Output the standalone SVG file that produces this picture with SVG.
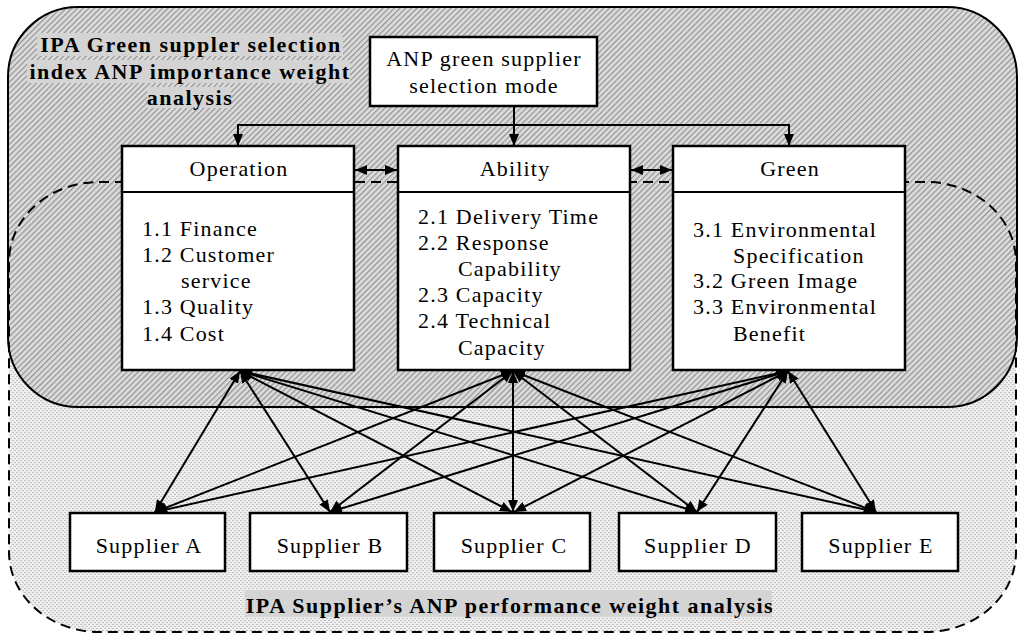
<svg xmlns="http://www.w3.org/2000/svg" width="1024" height="640" viewBox="0 0 1024 640">
<style>
.box{fill:#fff;stroke:#000;stroke-width:2.5}
.t{font-family:"Liberation Serif","Times New Roman",serif;font-size:22px;letter-spacing:1.2px;fill:#000}
.c{text-anchor:middle}
.b{font-weight:bold;letter-spacing:1.5px}
.hl{fill:#d4d4d4}
.ln{stroke:#000;stroke-width:2;fill:none}
.dbl{stroke:#000;stroke-width:2;fill:none;marker-start:url(#ah);marker-end:url(#ah)}
.one{stroke:#000;stroke-width:2;fill:none;marker-end:url(#ah)}
</style>
<defs>
<pattern id="hatch" patternUnits="userSpaceOnUse" width="4" height="4" patternTransform="rotate(45)">
<rect width="4" height="4" fill="#dcdcdc"/>
<rect width="1.2" height="4" fill="#929292"/>
</pattern>
<pattern id="dots" patternUnits="userSpaceOnUse" width="4" height="4">
<rect width="4" height="4" fill="#efefef"/>
<rect x="0" y="0" width="2" height="1" fill="#c2c2c2"/>
<rect x="2" y="2" width="2" height="1" fill="#c2c2c2"/>
</pattern>
<marker id="ah" viewBox="0 0 12 10" refX="12" refY="5" markerWidth="12" markerHeight="10" markerUnits="userSpaceOnUse" orient="auto-start-reverse">
<path d="M0,0 L12,5 L0,10 z" fill="#000"/>
</marker>
</defs>

<g id="region-performance-fill">
<rect x="9" y="182" width="1007" height="450" rx="90" ry="80" fill="url(#dots)"/>
</g>
<g id="region-importance">
<rect x="8" y="7" width="1009" height="400" rx="70" ry="70" fill="url(#hatch)" stroke="#000" stroke-width="2"/>
</g>
<g id="region-performance-border">
<rect x="9" y="182" width="1007" height="450" rx="90" ry="80" fill="none" stroke="#000" stroke-width="2" stroke-dasharray="10,6"/>
</g>

<g id="label-importance">
<rect class="hl" x="37" y="33" width="306" height="23"/>
<rect class="hl" x="27" y="60" width="323" height="23"/>
<rect class="hl" x="147" y="87" width="84" height="21"/>
<text class="t b c" x="191" y="52">IPA Green suppler selection</text>
<text class="t b c" x="190" y="79">index ANP importance weight</text>
<text class="t b c" x="190" y="105">analysis</text>
</g>

<g id="node-anp">
<rect class="box" x="370" y="37" width="227" height="69"/>
<text class="t c" x="484" y="66">ANP green supplier</text>
<text class="t c" x="484" y="93">selection mode</text>
</g>

<g id="node-operation">
<rect class="box" x="122" y="146" width="232" height="224"/>
<line class="ln" x1="122" y1="192" x2="354" y2="192" stroke-width="2.5"/>
<text class="t c" x="239" y="176">Operation</text>
<text class="t" x="142" y="236">1.1 Finance</text>
<text class="t" x="142" y="262">1.2 Customer</text>
<text class="t" x="181" y="288">service</text>
<text class="t" x="142" y="314">1.3 Quality</text>
<text class="t" x="142" y="341">1.4 Cost</text>
</g>

<g id="node-ability">
<rect class="box" x="398" y="146" width="232" height="224"/>
<line class="ln" x1="398" y1="192" x2="630" y2="192" stroke-width="2.5"/>
<text class="t c" x="515" y="176">Ability</text>
<text class="t" x="418" y="224">2.1 Delivery Time</text>
<text class="t" x="418" y="250">2.2 Response</text>
<text class="t" x="458" y="276">Capability</text>
<text class="t" x="418" y="302">2.3 Capacity</text>
<text class="t" x="418" y="328">2.4 Technical</text>
<text class="t" x="458" y="355">Capacity</text>
</g>

<g id="node-green">
<rect class="box" x="673" y="146" width="232" height="224"/>
<line class="ln" x1="673" y1="192" x2="905" y2="192" stroke-width="2.5"/>
<text class="t c" x="790" y="176">Green</text>
<text class="t" x="693" y="237">3.1 Environmental</text>
<text class="t" x="733" y="263">Specification</text>
<text class="t" x="693" y="288">3.2 Green Image</text>
<text class="t" x="693" y="314">3.3 Environmental</text>
<text class="t" x="733" y="341">Benefit</text>
</g>

<g id="node-supplier-a">
<rect class="box" x="70" y="513" width="155" height="58"/>
<text class="t c" x="149" y="553">Supplier A</text>
</g>
<g id="node-supplier-b">
<rect class="box" x="250" y="513" width="157" height="58"/>
<text class="t c" x="330" y="553">Supplier B</text>
</g>
<g id="node-supplier-c">
<rect class="box" x="434" y="513" width="156" height="58"/>
<text class="t c" x="514" y="553">Supplier C</text>
</g>
<g id="node-supplier-d">
<rect class="box" x="619" y="513" width="157" height="58"/>
<text class="t c" x="698" y="553">Supplier D</text>
</g>
<g id="node-supplier-e">
<rect class="box" x="802" y="513" width="156" height="58"/>
<text class="t c" x="881" y="553">Supplier E</text>
</g>

<g id="label-performance">
<rect class="hl" x="245" y="590" width="527" height="27"/>
<text class="t b c" x="510" y="613">IPA Supplier’s ANP performance weight analysis</text>
</g>

<g id="connectors">
<line class="one" x1="514" y1="106" x2="514" y2="146"/>
<polyline class="ln" points="238,125 789,125"/>
<line class="one" x1="238" y1="124" x2="238" y2="146"/>
<line class="one" x1="789" y1="124" x2="789" y2="146"/>
<line class="dbl" x1="355" y1="170" x2="397" y2="170"/>
<line class="dbl" x1="631" y1="170" x2="672" y2="170"/>

<line class="dbl" x1="240" y1="371" x2="155" y2="512"/>
<line class="dbl" x1="240" y1="371" x2="330" y2="512"/>
<line class="dbl" x1="240" y1="371" x2="512" y2="512"/>
<line class="dbl" x1="240" y1="371" x2="697" y2="512"/>
<line class="dbl" x1="240" y1="371" x2="876" y2="512"/>

<line class="dbl" x1="513" y1="371" x2="155" y2="512"/>
<line class="dbl" x1="513" y1="371" x2="330" y2="512"/>
<line class="dbl" x1="513" y1="371" x2="513" y2="512"/>
<line class="dbl" x1="513" y1="371" x2="697" y2="512"/>
<line class="dbl" x1="513" y1="371" x2="876" y2="512"/>

<line class="dbl" x1="788" y1="371" x2="155" y2="512"/>
<line class="dbl" x1="788" y1="371" x2="330" y2="512"/>
<line class="dbl" x1="788" y1="371" x2="514" y2="512"/>
<line class="dbl" x1="788" y1="371" x2="697" y2="512"/>
<line class="dbl" x1="788" y1="371" x2="876" y2="512"/>
</g>
</svg>
